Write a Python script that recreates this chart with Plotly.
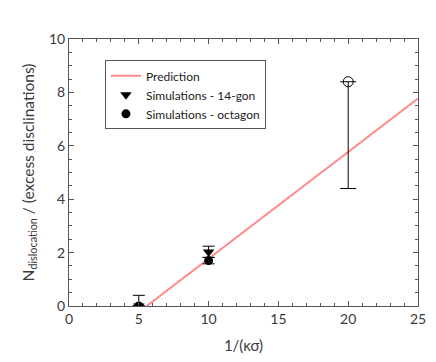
import plotly.graph_objects as go

# Data
pred_x = [5.57, 25.0]
pred_y = [0.0, 7.77]

gon14_x = [5, 10]
gon14_y = [0.0, 2.02]
gon14_err_plus = [0.40, 0.22]
gon14_err_minus = [0.0, 0.20]

oct_x = [5, 10]
oct_y = [0.0, 1.70]
oct_err_plus = [0.0, 0.12]
oct_err_minus = [0.0, 0.12]

open_x = [20]
open_y = [8.4]
open_err_plus = [0.0]
open_err_minus = [4.0]

FONT = "Lato"

fig = go.Figure()
fig.add_trace(go.Scatter(
    x=pred_x, y=pred_y, mode="lines", name="Prediction", legendrank=1,
    line=dict(color="#ff8a8a", width=2),
))
fig.add_trace(go.Scatter(
    x=gon14_x, y=gon14_y, mode="markers", name="Simulations - 14-gon", legendrank=2,
    marker=dict(symbol="triangle-down", size=10, color="black"), cliponaxis=True,
    error_y=dict(type="data", symmetric=False, array=gon14_err_plus,
                 arrayminus=gon14_err_minus, color="black", thickness=1, width=6),
))
fig.add_trace(go.Scatter(
    x=oct_x, y=oct_y, mode="markers", name="Simulations - octagon", legendrank=3,
    marker=dict(symbol="circle", size=9, color="black"), cliponaxis=True,
    error_y=dict(type="data", symmetric=False, array=oct_err_plus,
                 arrayminus=oct_err_minus, color="black", thickness=1, width=6),
))
fig.add_trace(go.Scatter(
    x=open_x, y=open_y, mode="markers", showlegend=False,
    marker=dict(symbol="circle-open", size=10, color="black", line=dict(width=1)),
    error_y=dict(type="data", symmetric=False, array=open_err_plus,
                 arrayminus=open_err_minus, color="black", thickness=1, width=8),
))

axis_common = dict(
    showgrid=False, zeroline=False, showline=True, linecolor="#555", linewidth=1,
    mirror="ticks", ticks="inside", ticklen=5, tickcolor="#555", tickwidth=1,
    tickfont=dict(family=FONT, size=14, color="#3a3a3a"), automargin=False,
)

# page body has an 8px default margin, so the figure is offset accordingly
fig.update_layout(
    width=428, height=354,
    margin=dict(l=61, r=18, t=31, b=56),
    paper_bgcolor="white", plot_bgcolor="white",
    font=dict(family=FONT, color="#3a3a3a"),
    xaxis=dict(range=[0, 25], dtick=5, tick0=0,
               minor=dict(ticks="inside", dtick=1, ticklen=3, tickcolor="#555"),
               title=dict(text="1/(κσ)", font=dict(family=FONT, size=15), standoff=14),
               **axis_common),
    yaxis=dict(range=[0, 10], dtick=2, tick0=0, ticklabelstandoff=0,
               minor=dict(ticks="inside", dtick=0.5, ticklen=3, tickcolor="#555"),
               title=dict(text="N<sub>dislocation</sub> / (excess disclinations)",
                          font=dict(family=FONT, size=15.5), standoff=10),
               **axis_common),
    legend=dict(x=0.103, y=0.92, xanchor="left", yanchor="top",
                bgcolor="white", bordercolor="#555", borderwidth=1,
                font=dict(family=FONT, size=12, color="#222"),
                tracegroupgap=0, itemwidth=30, traceorder="normal"),
    showlegend=True,
)

fig.write_html("out.html")
